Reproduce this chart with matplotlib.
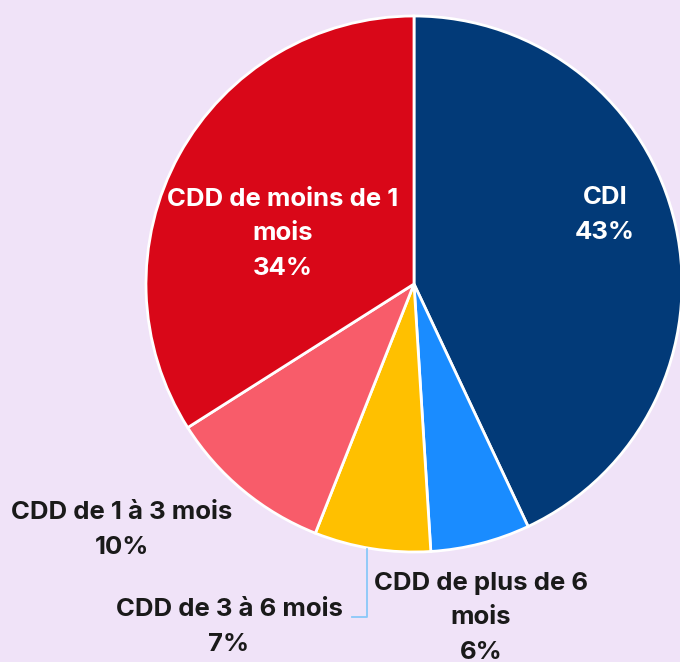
import matplotlib.pyplot as plt
import numpy as np

# Répartition des contrats
labels = ['CDI', 'CDD de plus de 6\nmois', 'CDD de 3 à 6 mois',
          'CDD de 1 à 3 mois', 'CDD de moins de 1\nmois']
values = [43, 6, 7, 10, 34]
colors = ['#023a78', '#1a8cff', '#ffc000', '#f85c6a', '#d90718']

BG = '#f0e3f8'
plt.rcParams['font.family'] = ['Inter', 'DejaVu Sans']

fig = plt.figure(figsize=(6.8, 6.62), dpi=100, facecolor=BG)
ax = fig.add_axes([0, 0, 1, 1])
ax.set_facecolor(BG)

cx, cy, r = 414, 662 - 284, 268
wedges, _ = ax.pie(values, colors=colors, startangle=90, counterclock=False,
                   center=(cx, cy), radius=r, frame=True,
                   wedgeprops=dict(edgecolor='white', linewidth=2))
ax.set_xlim(0, 680)
ax.set_ylim(0, 662)
ax.set_aspect('equal')
ax.axis('off')

# positions des étiquettes (pixels, origine en haut)
label_pos = [(605, 215), (481, 618), (229, 627), (122, 530), (283, 234)]
text_col = ['white', '#1a1a1a', '#1a1a1a', '#1a1a1a', 'white']
for lab, v, (x, y), c in zip(labels, values, label_pos, text_col):
    ax.text(x, 662 - y, f'{lab}\n{v}%', ha='center', va='center', color=c,
            fontsize=18.5, fontweight='bold', linespacing=1.62)

# ligne de rappel pour 3 à 6 mois
ax.plot([367, 367, 352], [662 - 549, 662 - 617, 662 - 617],
        color='#8ac8f8', lw=1.3)

fig.savefig('out.png', dpi=100, facecolor=BG)
